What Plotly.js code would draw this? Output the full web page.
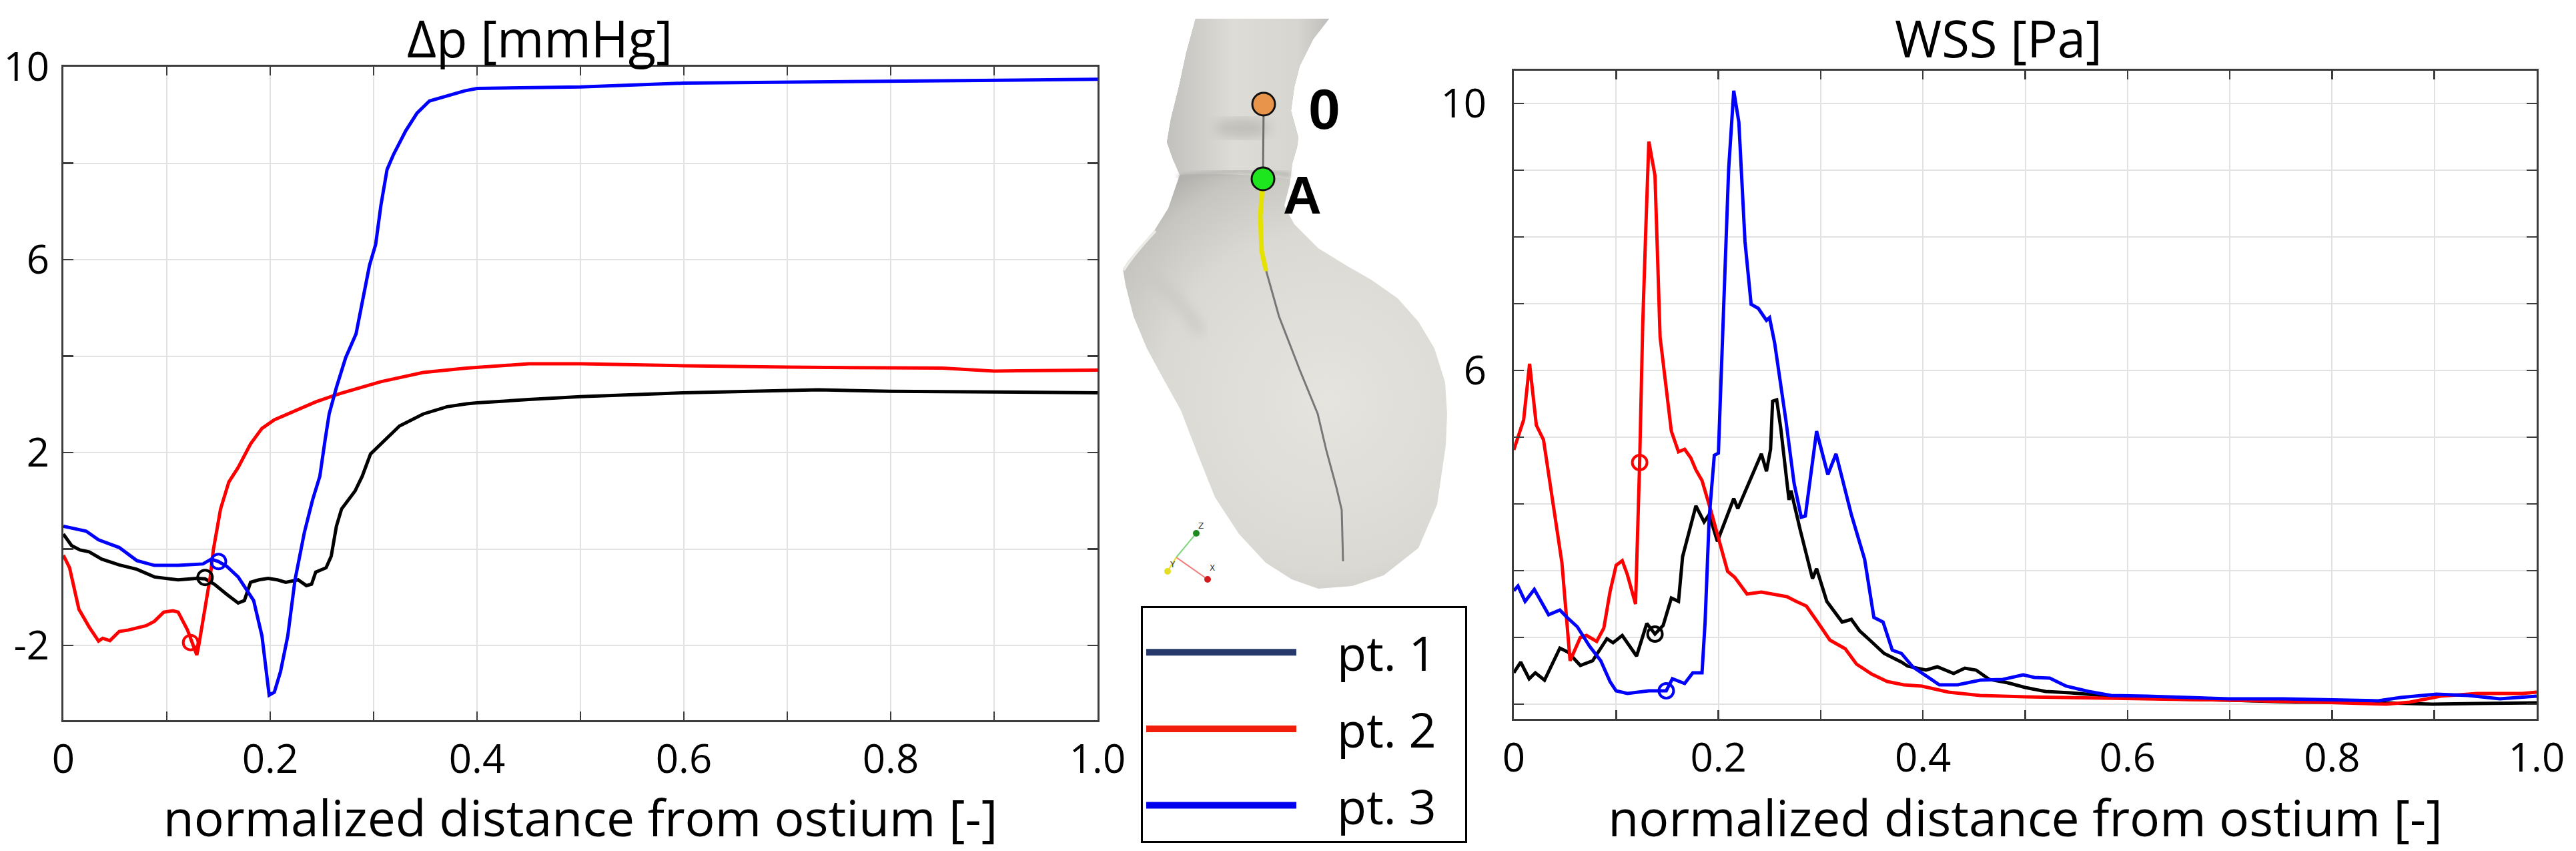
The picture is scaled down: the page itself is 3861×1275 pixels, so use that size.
<!DOCTYPE html>
<html>
<head>
<meta charset="utf-8">
<script src="https://cdn.plot.ly/plotly-3.0.1.min.js"></script>
<style>
  html, body { margin: 0; padding: 0; background: #fff; }
  #chart { width: 3861px; height: 1275px; }
</style>
</head>
<body>
<div id="chart"></div>
<script>
// pressure drop along the centreline [mmHg]
const dpX1 = [0, 0.008, 0.016, 0.025, 0.037, 0.054, 0.071, 0.088, 0.111, 0.129, 0.137, 0.146, 0.158, 0.169, 0.175, 0.181, 0.189, 0.198, 0.207, 0.215, 0.227, 0.235, 0.24, 0.244, 0.254, 0.259, 0.264, 0.269, 0.282, 0.289, 0.297, 0.307, 0.325, 0.348, 0.371, 0.39, 0.4, 0.45, 0.5, 0.6, 0.73, 0.8, 0.9, 1.0];
const dpY1 = [0.31, 0.07, -0.02, -0.06, -0.21, -0.33, -0.42, -0.58, -0.64, -0.61, -0.62, -0.73, -0.94, -1.12, -1.07, -0.69, -0.64, -0.61, -0.64, -0.69, -0.64, -0.76, -0.73, -0.48, -0.39, -0.15, 0.47, 0.83, 1.20, 1.51, 1.97, 2.18, 2.55, 2.80, 2.95, 3.01, 3.03, 3.10, 3.16, 3.24, 3.30, 3.27, 3.25, 3.24];

const dpX2 = [0, 0.006, 0.015, 0.025, 0.034, 0.038, 0.045, 0.054, 0.063, 0.08, 0.088, 0.097, 0.106, 0.111, 0.12, 0.124, 0.129, 0.131, 0.137, 0.142, 0.145, 0.152, 0.16, 0.169, 0.181, 0.192, 0.204, 0.227, 0.244, 0.264, 0.284, 0.307, 0.348, 0.39, 0.45, 0.5, 0.6, 0.7, 0.85, 0.9, 1.0];
const dpY2 = [-0.13, -0.39, -1.25, -1.62, -1.91, -1.85, -1.90, -1.71, -1.68, -1.59, -1.50, -1.31, -1.28, -1.31, -1.68, -1.93, -2.20, -1.99, -1.25, -0.58, -0.02, 0.83, 1.39, 1.69, 2.18, 2.50, 2.68, 2.89, 3.05, 3.20, 3.32, 3.47, 3.66, 3.75, 3.84, 3.84, 3.80, 3.77, 3.75, 3.69, 3.71];

const dpX3 = [0, 0.011, 0.022, 0.034, 0.054, 0.071, 0.088, 0.111, 0.135, 0.143, 0.15, 0.158, 0.169, 0.184, 0.192, 0.199, 0.204, 0.21, 0.217, 0.224, 0.233, 0.241, 0.248, 0.253, 0.257, 0.264, 0.273, 0.283, 0.289, 0.296, 0.302, 0.307, 0.313, 0.319, 0.331, 0.342, 0.354, 0.371, 0.388, 0.4, 0.5, 0.6, 0.8, 1.0];
const dpY3 = [0.47, 0.42, 0.37, 0.19, 0.03, -0.24, -0.34, -0.34, -0.31, -0.21, -0.26, -0.36, -0.58, -1.07, -1.80, -3.03, -2.97, -2.54, -1.80, -0.64, 0.34, 1.02, 1.51, 2.25, 2.80, 3.35, 3.97, 4.46, 5.14, 5.88, 6.32, 7.12, 7.87, 8.17, 8.67, 9.04, 9.29, 9.40, 9.50, 9.55, 9.58, 9.66, 9.70, 9.74];

// point A marked on each curve
const dpMarkX = [0.137, 0.123, 0.150];
const dpMarkY = [-0.59, -1.94, -0.26];

// wall shear stress along the centreline [Pa]
const wssX1 = [0, 0.0067, 0.015, 0.021, 0.03, 0.045, 0.053, 0.065, 0.077, 0.091, 0.097, 0.106, 0.12, 0.13, 0.138, 0.146, 0.154, 0.161, 0.165, 0.178, 0.186, 0.191, 0.199, 0.215, 0.219, 0.228, 0.238, 0.242, 0.247, 0.251, 0.253, 0.257, 0.261, 0.269, 0.271, 0.28, 0.292, 0.296, 0.306, 0.321, 0.33, 0.338, 0.348, 0.362, 0.379, 0.385, 0.403, 0.414, 0.43, 0.441, 0.452, 0.465, 0.483, 0.5, 0.52, 0.544, 0.584, 0.633, 0.699, 0.765, 0.831, 0.898, 0.942, 1.0];
const wssY1 = [1.47, 1.63, 1.38, 1.47, 1.36, 1.84, 1.78, 1.58, 1.65, 1.98, 1.92, 2.03, 1.72, 2.21, 2.05, 2.18, 2.59, 2.54, 3.21, 3.97, 3.73, 3.84, 3.44, 4.08, 3.93, 4.24, 4.60, 4.75, 4.49, 4.82, 5.54, 5.56, 5.13, 4.06, 4.20, 3.61, 2.88, 3.03, 2.54, 2.23, 2.27, 2.10, 1.96, 1.76, 1.63, 1.57, 1.51, 1.56, 1.46, 1.54, 1.51, 1.37, 1.32, 1.25, 1.19, 1.17, 1.12, 1.08, 1.06, 1.03, 1.03, 1.00, 1.01, 1.02];

const wssX2 = [0, 0.0096, 0.0154, 0.022, 0.029, 0.033, 0.042, 0.047, 0.055, 0.065, 0.071, 0.081, 0.088, 0.094, 0.1, 0.106, 0.111, 0.116, 0.119, 0.123, 0.126, 0.129, 0.132, 0.138, 0.143, 0.154, 0.161, 0.167, 0.173, 0.178, 0.184, 0.193, 0.202, 0.209, 0.216, 0.228, 0.242, 0.26, 0.267, 0.276, 0.286, 0.297, 0.309, 0.324, 0.335, 0.35, 0.365, 0.381, 0.399, 0.425, 0.456, 0.5, 0.544, 0.611, 0.699, 0.787, 0.853, 0.876, 0.906, 0.942, 0.986, 1.0];
const wssY2 = [4.81, 5.26, 6.10, 5.18, 4.96, 4.55, 3.70, 3.12, 1.65, 2.00, 2.03, 1.94, 2.14, 2.68, 3.08, 3.15, 2.94, 2.68, 2.50, 4.62, 6.68, 8.11, 9.43, 8.92, 6.50, 5.09, 4.78, 4.82, 4.69, 4.51, 4.35, 3.88, 3.37, 2.99, 2.90, 2.65, 2.68, 2.63, 2.61, 2.54, 2.47, 2.23, 1.96, 1.83, 1.60, 1.45, 1.34, 1.29, 1.27, 1.18, 1.13, 1.11, 1.10, 1.08, 1.06, 1.03, 1.00, 1.03, 1.12, 1.16, 1.16, 1.18];

const wssX3 = [0, 0.004, 0.011, 0.02, 0.034, 0.045, 0.052, 0.062, 0.074, 0.085, 0.094, 0.1, 0.111, 0.132, 0.149, 0.155, 0.167, 0.175, 0.184, 0.187, 0.191, 0.196, 0.2, 0.203, 0.21, 0.215, 0.22, 0.226, 0.232, 0.239, 0.247, 0.25, 0.255, 0.266, 0.274, 0.281, 0.285, 0.296, 0.307, 0.315, 0.33, 0.343, 0.352, 0.361, 0.37, 0.379, 0.39, 0.416, 0.434, 0.456, 0.478, 0.498, 0.509, 0.524, 0.54, 0.562, 0.584, 0.619, 0.655, 0.699, 0.752, 0.8, 0.845, 0.867, 0.902, 0.933, 0.964, 1.0];
const wssY3 = [2.70, 2.77, 2.54, 2.72, 2.34, 2.41, 2.30, 2.16, 1.87, 1.65, 1.34, 1.20, 1.16, 1.20, 1.20, 1.38, 1.31, 1.47, 1.47, 2.23, 3.79, 4.73, 4.76, 6.01, 9.01, 10.19, 9.72, 7.93, 6.99, 6.93, 6.75, 6.79, 6.41, 5.25, 4.31, 3.80, 3.82, 5.09, 4.44, 4.75, 3.84, 3.17, 2.30, 2.23, 1.81, 1.76, 1.56, 1.29, 1.29, 1.36, 1.37, 1.44, 1.40, 1.39, 1.27, 1.19, 1.13, 1.12, 1.10, 1.08, 1.08, 1.07, 1.05, 1.10, 1.15, 1.13, 1.08, 1.12];

const wssMarkX = [0.138, 0.123, 0.149];
const wssMarkY = [2.05, 4.62, 1.20];

const seriesNames = ["pt. 1", "pt. 2", "pt. 3"];
const lineColors = ["#000000", "#ff0000", "#0000ff"];
const legendColors = ["#27386b", "#f01e0a", "#0000ee"];

const xTicks = [0, 0.2, 0.4, 0.6, 0.8, 1.0];
const xTickText = ["0", "0.2", "0.4", "0.6", "0.8", "1.0"];
const dpTicks = [-2, 2, 6, 10];
const dpTickText = ["-2", "2", "6", "10"];
const wssTicks = [6, 10];
const wssTickText = ["6", "10"];

const W = 3861, H = 1275;
const FONT = "Open Sans, Noto Sans, sans-serif";

// anatomy sketch (drawn in page pixels, shown as an inline svg image)
const anatomySvg = `
<svg xmlns="http://www.w3.org/2000/svg" viewBox="1660 0 540 900" width="540" height="900">
  <defs>
    <radialGradient id="body" cx="1990" cy="600" r="420" gradientUnits="userSpaceOnUse">
      <stop offset="0" stop-color="#e6e4de"/>
      <stop offset="0.6" stop-color="#dad9d4"/>
      <stop offset="0.85" stop-color="#c6c5c0"/>
      <stop offset="1" stop-color="#a8a7a3"/>
    </radialGradient>
    <linearGradient id="neck" x1="1750" y1="0" x2="1995" y2="0" gradientUnits="userSpaceOnUse">
      <stop offset="0" stop-color="#c2c1bd"/>
      <stop offset="0.4" stop-color="#dedcd7"/>
      <stop offset="0.8" stop-color="#d6d5d0"/>
      <stop offset="1" stop-color="#bdbcb8"/>
    </linearGradient>
    <filter id="blur"><feGaussianBlur stdDeviation="9"/></filter>
    <filter id="soft"><feGaussianBlur stdDeviation="3"/></filter>
  </defs>
  <path fill="url(#body)" d="M1792,28 L1992,28 L1968,59 L1948,99 L1940,130 L1935,166 L1946,206 L1944,221 L1937,245 L1933,277 L1925,308 L1929,316 L1940,336 L1976,372 L2020,399 L2055,419 L2095,447 L2126,482 L2150,522 L2166,573 L2169,620 L2167,667 L2154,756 L2126,821 L2074,862 L2027,878 L1976,882 L1936,868 L1897,843 L1857,800 L1821,745 L1795,680 L1770,615 L1745,570 L1719,522 L1699,474 L1687,427 L1683,403 L1691,391 L1703,376 L1731,344 L1751,312 L1763,277 L1770,257 L1759,241 L1749,213 L1755,178 L1767,130 L1778,79 Z"/>
  <path fill="url(#neck)" d="M1792,28 L1992,28 L1968,59 L1948,99 L1940,130 L1935,166 L1946,206 L1944,221 L1937,245 L1933,268 Q1850,258 1768,262 L1759,241 L1749,213 L1755,178 L1767,130 L1778,79 Z"/>
  <ellipse cx="1862" cy="192" rx="42" ry="15" fill="#a8a7a3" opacity="0.55" filter="url(#blur)"/>
  <path d="M1766,266 Q1850,250 1934,262" stroke="#b4b3af" stroke-width="6" fill="none" filter="url(#soft)"/>
  <path d="M1700,400 Q1760,430 1800,500" stroke="#c9c8c3" stroke-width="14" fill="none" filter="url(#blur)"/>
  <path d="M1684,405 Q1700,380 1732,346" stroke="#ecebe6" stroke-width="4" fill="none"/>
  <polyline points="1894,156 1893,268" stroke="#6f6f6f" stroke-width="3" fill="none"/>
  <polyline points="1897,403 1917,474 1948,554 1975,620 1988,675 2003,730 2011,764 2013,841" stroke="#777" stroke-width="3" fill="none"/>
  <polyline points="1893,268 1889,324 1891,376 1897,403" stroke="#e6e200" stroke-width="7" fill="none" stroke-linecap="round"/>
  <circle cx="1894" cy="156" r="17" fill="#e8944a" stroke="#111" stroke-width="3"/>
  <circle cx="1893" cy="268" r="17" fill="#1ee61e" stroke="#111" stroke-width="3"/>
  <line x1="1763" y1="835" x2="1793" y2="799" stroke="#7fd67f" stroke-width="2"/>
  <line x1="1763" y1="835" x2="1810" y2="868" stroke="#ef7b7b" stroke-width="2"/>
  <line x1="1763" y1="835" x2="1750" y2="856" stroke="#e3de22" stroke-width="2"/>
  <circle cx="1793" cy="799" r="5" fill="#1c8a1c"/>
  <circle cx="1810" cy="868" r="5" fill="#d21c1c"/>
  <circle cx="1750" cy="856" r="5" fill="#e3de22"/>
</svg>`;

function lineTrace(x, y, i, xa, ya) {
  return {
    x: x, y: y, xaxis: xa, yaxis: ya, type: "scatter", mode: "lines",
    line: { color: lineColors[i], width: 5 },
    name: seriesNames[i], showlegend: false, hoverinfo: "skip",
  };
}

function markTrace(x, y, xa, ya) {
  return {
    x: x, y: y, xaxis: xa, yaxis: ya, type: "scatter", mode: "markers",
    marker: { symbol: "circle-open", size: 22, color: lineColors, line: { width: 4, color: lineColors } },
    showlegend: false, hoverinfo: "skip",
  };
}

const traces = [
  lineTrace(dpX1, dpY1, 0, "x", "y"),
  lineTrace(dpX2, dpY2, 1, "x", "y"),
  lineTrace(dpX3, dpY3, 2, "x", "y"),
  markTrace(dpMarkX, dpMarkY, "x", "y"),
  lineTrace(wssX1, wssY1, 0, "x2", "y2"),
  lineTrace(wssX2, wssY2, 1, "x2", "y2"),
  lineTrace(wssX3, wssY3, 2, "x2", "y2"),
  markTrace(wssMarkX, wssMarkY, "x2", "y2"),
];

// legend entries (the legend uses its own colours)
const NB = "\u00a0\u00a0\u00a0";
seriesNames.forEach((name, i) => {
  traces.push({
    x: [null], y: [null], type: "scatter", mode: "lines",
    line: { color: legendColors[i], width: 15 },
    name: NB + name + "\u00a0\u00a0", legendgroup: "g" + i, showlegend: true,
  });
});

const axisLine = "#3c3c3c";
const gridColor = "#e2e2e2";

function xAxis(domain, anchor) {
  return {
    domain: domain, anchor: anchor, range: [0, 1],
    tickmode: "array", tickvals: xTicks, ticktext: xTickText,
    ticks: "inside", ticklen: 13, tickwidth: 2.5, tickcolor: axisLine,
    showline: true, linecolor: axisLine, linewidth: 3, mirror: "allticks",
    showgrid: true, gridcolor: gridColor, gridwidth: 2, zeroline: false,
    minor: { dtick: 0.1, tick0: 0, ticks: "inside", ticklen: 13, tickwidth: 2.5, tickcolor: axisLine, showgrid: true, gridcolor: gridColor, gridwidth: 2 },
    tickfont: { family: FONT, size: 60, color: "#000" },
    ticklabelstandoff: 4,
    title: { text: "normalized distance from ostium [-]", font: { family: FONT, size: 75, color: "#000" }, standoff: 44 },
    automargin: false, fixedrange: true,
  };
}

function yAxis(domain, anchor, range, vals, text, minorDtick, standoff) {
  return {
    domain: domain, anchor: anchor, range: range,
    tickmode: "array", tickvals: vals, ticktext: text,
    ticks: "inside", ticklen: 15, tickwidth: 2.5, tickcolor: axisLine,
    showline: true, linecolor: axisLine, linewidth: 3, mirror: "allticks",
    showgrid: true, gridcolor: gridColor, gridwidth: 2, zeroline: false,
    minor: { dtick: minorDtick, tick0: 0, ticks: "inside", ticklen: 15, tickwidth: 2.5, tickcolor: axisLine, showgrid: true, gridcolor: gridColor, gridwidth: 2 },
    tickfont: { family: FONT, size: 60, color: "#000" },
    ticklabelstandoff: standoff,
    automargin: false, fixedrange: true,
  };
}

const layout = {
  width: W, height: H,
  margin: { l: 0, r: 0, t: 0, b: 0 },
  paper_bgcolor: "#fff", plot_bgcolor: "#fff",
  showlegend: true,
  xaxis: xAxis([95 / W, 1645 / W], "y"),
  yaxis: yAxis([1 - 1079 / H, 1 - 100 / H], "x", [-3.55, 10], dpTicks, dpTickText, 2, 6),
  xaxis2: xAxis([2269 / W, 3802 / W], "y2"),
  yaxis2: yAxis([1 - 1077 / H, 1 - 106 / H], "x2", [0.78, 10.49], wssTicks, wssTickText, 1, 26),
  legend: {
    x: 1710 / W, y: 1 - 908 / H, xanchor: "left", yanchor: "top",
    bgcolor: "#fff", bordercolor: "#000", borderwidth: 3,
    font: { family: FONT, size: 72, color: "#000" },
    title: { text: "\u00a0", font: { family: FONT, size: 10 } },
    itemwidth: 225, tracegroupgap: 18, traceorder: "grouped",
  },
  images: [{
    source: "data:image/svg+xml;charset=utf-8," + encodeURIComponent(anatomySvg),
    xref: "paper", yref: "paper", x: 1660 / W, y: 1, sizex: 540 / W, sizey: 900 / H,
    xanchor: "left", yanchor: "top", sizing: "stretch", layer: "below",
  }],
  annotations: [
    { text: "Δp [mmHg]", xref: "paper", yref: "paper", x: 809 / W, y: 1 - 57 / H, showarrow: false,
      xanchor: "center", yanchor: "middle", font: { family: FONT, size: 76, color: "#000" } },
    { text: "WSS [Pa]", xref: "paper", yref: "paper", x: 2995 / W, y: 1 - 57 / H, showarrow: false,
      xanchor: "center", yanchor: "middle", font: { family: FONT, size: 76, color: "#000" } },
    { text: "0", xref: "paper", yref: "paper", x: 1985 / W, y: 1 - 163 / H, showarrow: false,
      xanchor: "center", yanchor: "middle", font: { family: "Liberation Sans, Arial, sans-serif", size: 86, weight: 900, color: "#000" } },
    { text: "A", xref: "paper", yref: "paper", x: 1952 / W, y: 1 - 292 / H, showarrow: false,
      xanchor: "center", yanchor: "middle", font: { family: "Liberation Sans, Arial, sans-serif", size: 80, weight: 900, color: "#000" } },
    { text: "Z", xref: "paper", yref: "paper", x: 1800 / W, y: 1 - 788 / H, showarrow: false,
      font: { family: "DejaVu Sans, sans-serif", size: 12, color: "#333" } },
    { text: "X", xref: "paper", yref: "paper", x: 1817 / W, y: 1 - 860 / H, showarrow: false,
      font: { family: "DejaVu Sans, sans-serif", size: 12, color: "#333" } },
    { text: "Y", xref: "paper", yref: "paper", x: 1757 / W, y: 1 - 846 / H, showarrow: false,
      font: { family: "DejaVu Sans, sans-serif", size: 12, color: "#333" } },
  ],
};

Plotly.newPlot(document.getElementById("chart"), traces, layout, { staticPlot: true, displayModeBar: false });
</script>
</body>
</html>
